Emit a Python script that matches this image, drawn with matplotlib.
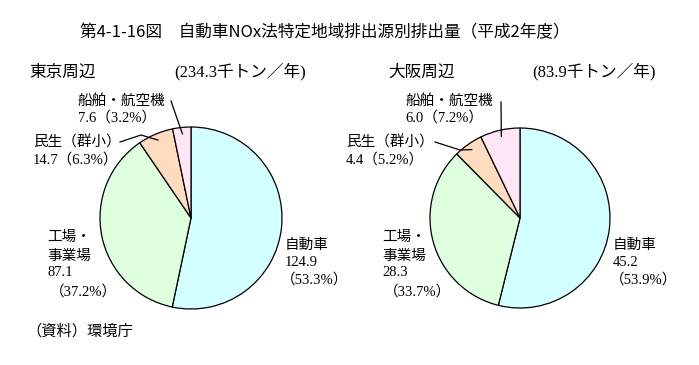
import numpy as np
import matplotlib.pyplot as plt

plt.rcParams['font.family'] = ['Noto Sans CJK JP', 'DejaVu Sans']

W, H = 699, 365

categories = ['自動車', '工場・事業場', '民生（群小）', '船舶・航空機']
colors = ['#d2ffff', '#ddffdd', '#ffdcc0', '#ffe6f6']

tokyo_vals = [124.9, 87.1, 14.7, 7.6]
tokyo_pct = [53.3, 37.2, 6.3, 3.2]
tokyo_total = 234.3

osaka_vals = [45.2, 28.3, 4.4, 6.0]
osaka_pct = [53.9, 33.7, 5.2, 7.2]
osaka_total = 83.9

title = '第4-1-16図　自動車NOx法特定地域排出源別排出量（平成2年度）'
source = '（資料）環境庁'

fig = plt.figure(figsize=(W / 100, H / 100), dpi=100)
ax = fig.add_axes([0, 0, 1, 1])

def Y(y):
    return H - y

serif = ['Liberation Serif', 'Noto Sans CJK JP']
fs = 10.5


def draw_pie(cx, cy, r, vals, region, total, tx, nx):
    wedges, _ = ax.pie(vals, colors=colors, startangle=90, counterclock=False,
                       center=(cx, Y(cy)), radius=r,
                       wedgeprops=dict(edgecolor='black', linewidth=0.9))
    # header
    ax.text(tx, Y(72), region, fontsize=12, va='center', ha='left')
    ax.text(nx, Y(72), f'({total}千トン／年)', fontsize=12, va='center',
            ha='left', family=serif)

    def mid_point(w, f=0.93):
        a = np.deg2rad((w.theta1 + w.theta2) / 2)
        return cx + f * r * np.cos(a), Y(cy) + f * r * np.sin(a)
    return wedges, mid_point


# --- Tokyo
wedges, mp = draw_pie(191, 218, 91, tokyo_vals, '東京周辺',
                      tokyo_total, 29, 174)
ax.text(285, Y(245), '自動車', fontsize=fs, va='center')
ax.text(285, Y(263), f'{tokyo_vals[0]}', fontsize=fs, va='center', family=serif)
ax.text(281, Y(280), f'（{tokyo_pct[0]}%）', fontsize=fs, va='center', family=serif)
ax.text(47, Y(237), '工場・', fontsize=fs, va='center')
ax.text(47, Y(256), '事業場', fontsize=fs, va='center')
ax.text(47, Y(273), f'{tokyo_vals[1]}', fontsize=fs, va='center', family=serif)
ax.text(50, Y(292), f'（{tokyo_pct[1]}%）', fontsize=fs, va='center', family=serif)
ax.text(33, Y(143), '民生（群小）', fontsize=fs, va='center')
ax.text(33, Y(160), f'{tokyo_vals[2]}（{tokyo_pct[2]}%）', fontsize=fs,
        va='center', family=serif)
ax.text(78, Y(101), '船舶・航空機', fontsize=fs, va='center')
ax.text(78, Y(118), f'{tokyo_vals[3]}（{tokyo_pct[3]}%）', fontsize=fs,
        va='center', family=serif)
ex, ey = mp(wedges[2])
ax.plot([120, 141, ex], [Y(142), Y(135), ey], color='black', lw=0.9)
ex, ey = mp(wedges[3])
ax.plot([171, ex], [Y(101), ey], color='black', lw=0.9)

# --- Osaka
wedges, mp = draw_pie(520, 218, 90, osaka_vals, '大阪周辺',
                      osaka_total, 388, 532)
ax.text(613, Y(245), '自動車', fontsize=fs, va='center')
ax.text(613, Y(263), f'{osaka_vals[0]}', fontsize=fs, va='center', family=serif)
ax.text(610, Y(280), f'（{osaka_pct[0]}%）', fontsize=fs, va='center', family=serif)
ax.text(382, Y(237), '工場・', fontsize=fs, va='center')
ax.text(382, Y(256), '事業場', fontsize=fs, va='center')
ax.text(382, Y(273), f'{osaka_vals[1]}', fontsize=fs, va='center', family=serif)
ax.text(384, Y(292), f'（{osaka_pct[1]}%）', fontsize=fs, va='center', family=serif)
ax.text(346, Y(143), '民生（群小）', fontsize=fs, va='center')
ax.text(346, Y(160), f'{osaka_vals[2]}（{osaka_pct[2]}%）', fontsize=fs,
        va='center', family=serif)
ax.text(405, Y(101), '船舶・航空機', fontsize=fs, va='center')
ax.text(405, Y(118), f'{osaka_vals[3]}（{osaka_pct[3]}%）', fontsize=fs,
        va='center', family=serif)
ex, ey = mp(wedges[2])
ax.plot([435, 460, ex], [Y(142), Y(150), ey], color='black', lw=0.9)
ex, ey = mp(wedges[3])
ax.plot([501, ex], [Y(102), ey], color='black', lw=0.9)

ax.text(80, Y(33), title, fontsize=12, va='center', ha='left')
ax.text(26, Y(331), source, fontsize=11, va='center', ha='left')

ax.set_xlim(0, W)
ax.set_ylim(0, H)
ax.set_aspect('equal')
ax.axis('off')

fig.savefig('out.png', dpi=100, facecolor='white')
